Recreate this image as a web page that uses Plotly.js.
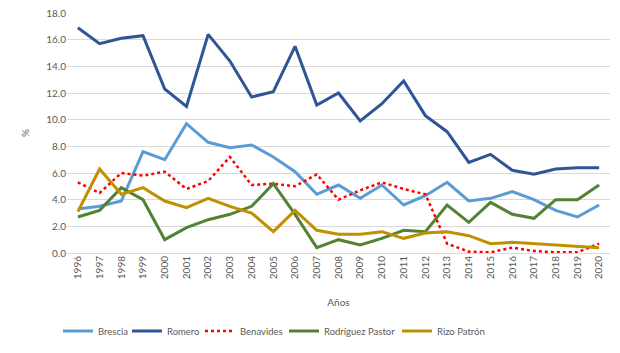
<!DOCTYPE html>
<html><head><meta charset="utf-8">
<script src="https://cdn.plot.ly/plotly-3.0.1.min.js"></script>
<style>body{margin:0;background:#fff}#c{width:620px;height:353px}</style>
</head><body><div id="c"></div>
<script>
const years = ["1996","1997","1998","1999","2000","2001","2002","2003","2004","2005","2006","2007","2008","2009","2010","2011","2012","2013","2014","2015","2016","2017","2018","2019","2020"];
const brescia = [3.3,3.5,3.9,7.6,7.0,9.7,8.3,7.9,8.1,7.2,6.1,4.4,5.1,4.1,5.1,3.6,4.3,5.3,3.9,4.1,4.6,4.0,3.2,2.7,3.6];
const romero = [16.9,15.7,16.1,16.3,12.3,11.0,16.4,14.4,11.7,12.1,15.5,11.1,12.0,9.9,11.2,12.9,10.3,9.1,6.8,7.4,6.2,5.9,6.3,6.4,6.4];
const benavides = [5.3,4.5,6.0,5.8,6.1,4.8,5.4,7.2,5.1,5.2,5.0,5.9,4.0,4.7,5.3,4.8,4.4,0.7,0.1,0.05,0.4,0.15,0.05,0.05,0.7];
const rodriguezPastor = [2.7,3.2,4.9,4.0,1.0,1.9,2.5,2.9,3.5,5.2,2.9,0.4,1.0,0.6,1.1,1.7,1.6,3.6,2.3,3.8,2.9,2.6,4.0,4.0,5.1];
const rizoPatron = [3.1,6.3,4.4,4.9,3.9,3.4,4.1,3.5,3.0,1.6,3.2,1.7,1.4,1.4,1.6,1.1,1.5,1.6,1.3,0.7,0.8,0.7,0.55,0.5,0.4];
const names = ["Brescia","Romero","Benavides","Rodríguez Pastor","Rizo Patrón"];
const series = [brescia, romero, benavides, rodriguezPastor, rizoPatron];
const colors = ["#5B9BD5","#2F5597","#FF0000","#548235","#BF9000"];
const dashes = ["solid","solid","dot","solid","solid"];
const legendIds = ["legend","legend2","legend3","legend4","legend5"];
const legendStart = [63,132,205,289,402];
const traces = series.map((s,i)=>({
  type:"scatter", mode:"lines", x:years, y:s, name:names[i], legend:legendIds[i],
  line:{color:colors[i], width: i===2?2.5:3, dash:dashes[i]}
}));
const txt = {family:"Lato, 'Open Sans', sans-serif", size:10, color:"#595959"};
const layout = {
  width:620, height:353,
  margin:{l:67, r:10, t:13, b:100, autoexpand:false},
  paper_bgcolor:"#fff", plot_bgcolor:"#fff",
  font:txt,
  showlegend:true,
  xaxis:{type:"category", range:[-0.5,24.5], automargin:false, tickangle:-90, showgrid:false, zeroline:false, showline:false, ticks:"", tickfont:{size:10,color:"#595959"},
    title:{text:"Años", font:{size:10,color:"#595959"}, standoff:20}},
  yaxis:{range:[0,18], dtick:2, tickformat:".1f", automargin:false, showgrid:true, gridcolor:"#D9D9D9", gridwidth:1, zeroline:true, zerolinecolor:"#D9D9D9", zerolinewidth:1,
    showline:false, ticks:"", tickfont:{size:10,color:"#595959"}, title:{text:"%", font:{size:10,color:"#595959"}, standoff:14}}
};
legendIds.forEach((id,i)=>{
  layout[id] = {orientation:"h", x:(legendStart[i]-5-67)/543, xanchor:"left", y:-0.325, yanchor:"middle",
    font:{size:9.5,color:"#595959"}, itemwidth:30, bgcolor:"rgba(0,0,0,0)"};
});
Plotly.newPlot("c", traces, layout, {displayModeBar:false, staticPlot:true});
</script></body></html>
